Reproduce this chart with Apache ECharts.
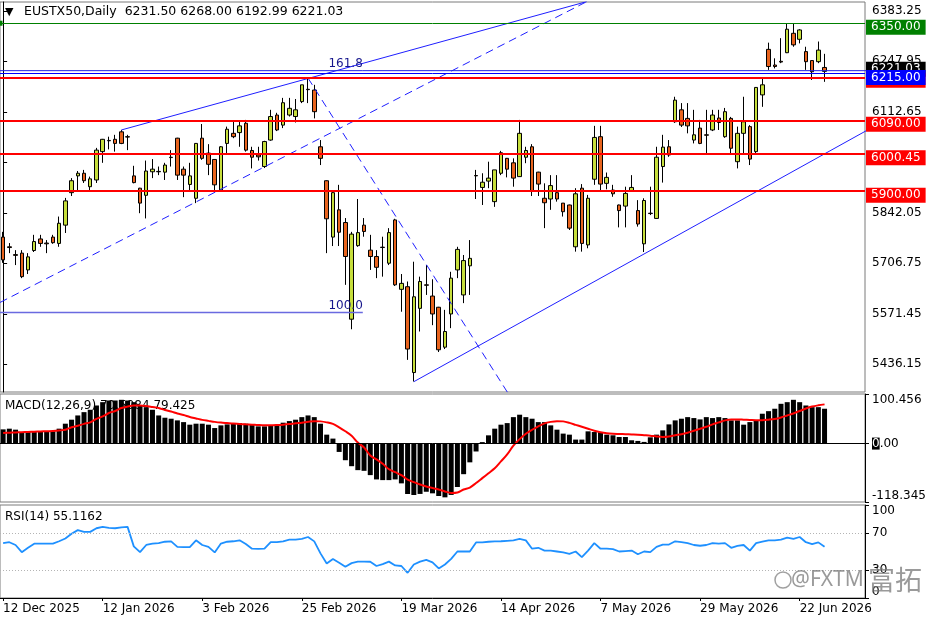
<!DOCTYPE html>
<html>
<head>
<meta charset="utf-8">
<script src="https://cdn.jsdelivr.net/npm/echarts@6/dist/echarts.min.js"></script>
<style>
  html, body { margin: 0; padding: 0; background: #fff; }
  #chart { width: 936px; height: 624px; }
</style>
</head>
<body>
<div id="chart"></div>
<script>
// ---------- data ----------
const openP = [5777,5751,5730,5734,5689,5741,5772,5761,5777,5760, 5809,5896,5941,5948,5912,5930,6006,6035,6039,6059,
  6046,5941,5908,5889,5952,5952,5951,5990,6042,5959, 5918,5881,6042,6002,5985,5903,6028,6055,6057,6082,
  6009,5997,5966,6037,6104,6077,6104,6100,6140,6173, 6171,6019,5928,5777,5850,5816,5557,5754,5809,5742,
  5725,5750,5707,5823,5637,5644,5414,5586,5649,5619, 5589,5482,5571,5689,5622,5700,5942,5910,5927,5872,
  5948,5988,5976,5939,5991,6019,5951,5881,5879,5896, 5868,5863,5751,5908,5756,5932,6046,5921,5903,5863,
  5860,5901,5848,5759,5841,5827,5966,6019,6086,6118, 6095,6037,6069,6051,6064,6096,6046,6095,5979,6055,
  6073,6006,6158,6280,6238,6248,6271,6323,6307,6274, 6250,6247,6231.50];
const closeP = [5716,5749,5728,5671,5724,5765,5760,5759,5762,5814, 5874,5928,5948,5928,5933,6010,6039,6036,6028,6028,
  6045,5923,5868,5954,5959,5953,5970,5991,5943,5943, 5941,6028,5988,5972,5917,6019,6066,6046,6075,6010,
  5991,5992,6033,6100,6064,6137,6122,6118,6185,6172, 6113,5988,5826,5896,5790,5725,5785,5789,5792,5725,
  5696,5749,5789,5649,5653,5477,5617,5658,5648,5571, 5475,5524,5667,5744,5714,5720,5941,5924,5935,5957,
  6003,5959,5935,6055,6009,5901,5919,5869,5915,5879, 5845,5801,5893,5760,5881,6044,5919,5937,5893,5848,
  5894,5910,5812,5875,5840,5991,6018,5997,6144,6077, 6075,6051,6028,6050,6104,6084,6113,6015,6055,6086,
  5986,6178,6185,6234,6234,6246,6334,6292,6332,6247, 6220,6278,6221.03];
const lowP = [5708,5734,5702,5667,5678,5737,5751,5734,5759,5751, 5788,5887,5903,5922,5903,5922,5976,6012,6006,6026,
  6010,5921,5841,5827,5935,5943,5930,5966,5930,5884, 5899,5868,5984,5943,5899,5899,5997,6042,6019,6006,
  5961,5982,5962,6035,6061,6069,6100,6084,6136,6136, 6095,5970,5734,5753,5753,5649,5530,5751,5778,5689,
  5667,5671,5702,5646,5577,5448,5390,5524,5622,5541, 5469,5477,5533,5667,5600,5622,5879,5863,5908,5858,
  5943,5937,5912,5938,5975,5887,5887,5801,5850,5872, 5832,5796,5738,5738,5747,5917,5903,5905,5885,5803,
  5803,5899,5805,5737,5836,5826,5923,5992,6083,6072, 6055,6028,6026,6002,6061,6064,6043,6002,5961,6002,
  5970,5997,6126,6225,6229,6243,6270,6287,6296,6225, 6198,6243,6192.99];
const highP = [5791,5761,5742,5742,5734,5783,5783,5769,5783,5832, 5882,5935,5954,5957,5939,6016,6040,6046,6051,6064,
  6051,5968,5909,5982,5986,5966,5976,6010,6043,5966, 5976,6029,6080,6026,5986,6021,6073,6086,6086,6091,
  6019,6019,6035,6118,6110,6150,6150,6147,6185,6203, 6185,6037,5929,5903,5917,5828,5791,5879,5828,5783,
  5742,5778,5801,5826,5678,5658,5711,5671,5702,5664, 5590,5582,5684,5751,5729,5769,5957,5948,5979,5957,
  6008,5989,5988,6091,6019,6026,5952,5921,5943,5943, 5868,5864,5908,5919,5890,6075,6075,5950,5917,5864,
  5912,5943,5876,5881,5912,6019,6051,6037,6153,6136, 6136,6118,6091,6118,6118,6118,6123,6099,6073,6153,
  6077,6179,6203,6298,6256,6310,6348,6348,6334,6287, 6250,6301,6268.00];

const macdMain = [28.8,30.2,28.2,23.4,23.4,23.4,24.8,24.8,24.8,30.2, 40.3,48.4,57,63.7,68.5,77.2,83.9,87.3,87.3,88.7,
  87.3,83.9,77.2,73.8,68.5,57,52.4,50.4,47,43.5, 38.3,40.3,40.3,38.3,31.5,36.9,38.9,40.3,41.5,40.3,
  38.3,34.9,34.9,36.9,36.9,42.3,45.6,48.4,53.6,57, 53.6,40.3,18.1,10.1,-16.9,-33.7,-45.8,-53.8,-55.2,-63.9,
  -72.6,-74,-74,-72.6,-80.6,-102.2,-104.2,-102,-97.6,-100.8, -106.2,-108.9,-104,-88,-62,-38,-16,3,16.7,30.2,
  38.3,41.5,53.6,58.5,53.6,50.4,43.5,43.5,36.9,28.2, 20.2,18.1,8.1,8.1,24.8,23.4,23.4,18.1,16.8,13.4,
  13.4,6.7,5.4,3.4,12.7,18.1,26.8,38.9,47,50.4, 53.6,51.7,49,53.6,51.7,53.6,51.7,47,47,38.3,
  43.5,47,60.5,65.7,70.6,80.6,83.9,88.7,83.9,77.2, 73.8,73.8,70.5984];
const macdSignal = [21.4,22,22.5,23,23.5,24,24.5,25,25.5,26.5, 28,33,36,40,43,50,55,62,66,72,
  75,77,77,76,74,72,68,65,61,58, 54,51,48,46,44,42.5,41.5,40.5,39.8,39,
  38.3,37.5,37,37,37.5,38.3,39.5,41,42.3,44, 45.5,45,43,40,33,25,16,2,-8,-24,
  -32,-41,-52,-58,-64,-73,-78,-83,-87,-90, -93,-97,-100,-99,-93,-89,-80,-70,-60,-50,
  -36,-22,-4,9,20,28,35,41,44,45.5, 45,42,38,34,30,26,23,21,20,19.5,
  19,18.5,18,17,16,14.5,13.5,14.5,17,19, 22,26,30,34,39,43,47,49,49,48.5,
  48,47.5,47.5,48.5,50,53,57,61,66,71, 75,77.5,79.425];
const rsi14 = [59,60,57,49.3,54,58.4,58.4,58.4,58.4,61, 64,69,73,71.1,71.1,75,76.5,75.5,75,76,
  76.5,55.5,49.3,57,58.4,59,60.5,60.9,55,54.7, 54.7,62,57,55,49,58.5,60.5,61,62,58,
  53,52.9,53,60,60,61,62.7,62.7,63.5,65.6, 60.9,48,37,42,38,33.6,37.5,39.1,39.1,39,
  34.4,36.5,39.1,35,34.4,27.1,36,39.1,41,38.4, 31.8,36,42,50,50,50,59.8,59.8,60.5,60.9,
  61,61.5,62,63.5,62,53,54,51,51,50, 49,47.5,50,44,51,59,53,53,52.5,50,
  50.5,51,47,50,49.3,55,57.3,57.5,61,60, 59,57,56.2,57,59,58.5,59,54,56,57,
  51,59,60.5,62,62,62.7,65,63.5,65.6,60, 58,59.8,55.1162];

const priceTicks = [5436.15, 5571.45, 5706.75, 5842.05, 5977.35, 6112.65, 6247.95, 6383.25];
const macdTicks = [100.456, 0, -118.345];
const rsiTicks = [100, 70, 30, 0];
const rsiLevels = [70, 30];

// horizontal levels drawn on the price pane
const resistanceLevel = 6350;
const blueLevel = 6215;
const redLevels = [6205, 6090, 6000.45, 5900];
// fibonacci expansion levels and where the tool ends (bar index)
const fibLevels = [5575, 6222.9];
const fibNames = ['100.0', '161.8'];
const fibEndBar = 57.8;
// trend lines: anchor points as [bar index, price]
const trendTop = [[19, 6064], [93.8, 6408]];
const trendBase = [[-0.5, 5601.8], [93.8, 6408]];
const trendDown = [[49, 6203], [82, 5336]];
const trendSupport = [[66, 5389.5], [140, 6074]];

// trading calendar (weekdays minus exchange holidays)
const holidays = ['2025-12-24', '2025-12-25', '2025-12-26', '2025-12-31', '2026-01-01', '2026-04-03', '2026-04-06', '2026-05-01'];
const MONTHS = ['Jan', 'Feb', 'Mar', 'Apr', 'May', 'Jun', 'Jul', 'Aug', 'Sep', 'Oct', 'Nov', 'Dec'];
const slots = 139;   // bars + empty space on the right
const dates = [];
for (let t = Date.UTC(2025, 11, 12); dates.length < slots; t += 86400000) {
  const d = new Date(t);
  const wd = d.getUTCDay();
  if (wd === 0 || wd === 6) continue;
  if (holidays.includes(d.toISOString().slice(0, 10))) continue;
  dates.push(d.getUTCDate() + ' ' + MONTHS[d.getUTCMonth()] + ' ' + d.getUTCFullYear());
}

// ---------- chart ----------
const FONT = 'DejaVu Sans';
const last = closeP.length - 1;
const candles = openP.map((o, i) => [o, closeP[i], lowP[i], highP[i]]);

const chart = echarts.init(document.getElementById('chart'));

function boxLabel(bg, dy) {
  return {
    show: true, position: 'end', distance: 1,
    formatter: p => Number(p.value).toFixed(2),
    color: '#fff', backgroundColor: bg, padding: [2, 5, 1, 5],
    fontSize: 12, fontFamily: FONT, offset: [0, dy]
  };
}

const levelData = [
  { yAxis: resistanceLevel, symbol: ['emptyRect', 'emptyRect'], symbolSize: 5,
    lineStyle: { color: '#008000', width: 1, type: 'solid' }, label: boxLabel('#008000', 4) }
];
redLevels.slice(1).forEach(v => levelData.push(
  { yAxis: v, lineStyle: { color: '#ff0000', width: 2, type: 'solid' }, label: boxLabel('#ff0000', 4) }));
levelData.push({ yAxis: closeP[last], lineStyle: { color: 'rgba(0,0,0,0)', width: 0 }, label: boxLabel('#000', -2) });
levelData.push({ yAxis: redLevels[0], lineStyle: { color: '#ff0000', width: 2, type: 'solid' }, label: boxLabel('#ff0000', 3) });
levelData.push({ yAxis: blueLevel, lineStyle: { color: '#0000ff', width: 1, type: 'solid' }, label: boxLabel('#0000ff', 4) });

function trendSeries(points, dashed) {
  return {
    type: 'line', xAxisIndex: 1, yAxisIndex: 0, data: points, symbol: 'none', silent: true, z: 3,
    lineStyle: { color: '#1f1fff', width: 1, type: dashed ? [8, 5] : 'solid' }
  };
}
function fibSeries(level, name, color, width) {
  return {
    type: 'line', xAxisIndex: 1, yAxisIndex: 0, symbol: 'none', silent: true, z: 3,
    data: [[-1, level], [fibEndBar, level]],
    lineStyle: { color: color, width: width },
    endLabel: { show: true, formatter: name, align: 'right', verticalAlign: 'bottom', distance: 0,
      offset: [0, -1], color: '#16168c', fontSize: 12, fontFamily: FONT }
  };
}

const hiddenCat = (grid) => ({
  gridIndex: grid, type: 'category', data: dates, boundaryGap: true,
  axisLine: { show: false }, axisTick: { show: false }, axisLabel: { show: false }, splitLine: { show: false }
});
const gridBase = { left: 0, right: 71, show: true, borderColor: '#7a7a7a', borderWidth: 1, backgroundColor: '#fff' };

chart.setOption({
  animation: false,
  backgroundColor: '#fff',
  textStyle: { fontFamily: FONT },
  grid: [
    Object.assign({ top: 2, height: 390 }, gridBase),
    Object.assign({ top: 394, height: 108 }, gridBase),
    Object.assign({ top: 505, height: 93 }, gridBase)
  ],
  xAxis: [
    hiddenCat(0),
    { gridIndex: 0, type: 'value', min: -0.5, max: slots - 0.5, show: false },
    hiddenCat(1),
    {
      gridIndex: 2, type: 'category', data: dates, boundaryGap: true,
      axisLine: { show: true, lineStyle: { color: '#000' } },
      axisTick: { show: true, alignWithLabel: true, interval: 15, length: 3, lineStyle: { color: '#000' } },
      axisLabel: { interval: 15, align: 'left', color: '#000', fontSize: 12, fontFamily: FONT, margin: 5 },
      splitLine: { show: false }
    }
  ],
  yAxis: [
    {
      gridIndex: 0, type: 'value', position: 'right', min: 5361.9, max: 6406.9,
      axisLine: { show: true, lineStyle: { color: '#000' } },
      axisTick: { show: true, length: 4, customValues: priceTicks, lineStyle: { color: '#000' } },
      axisLabel: { customValues: priceTicks, formatter: v => v.toFixed(2), color: '#000', fontSize: 12, fontFamily: FONT, margin: 7 },
      splitLine: { show: false }
    },
    {
      gridIndex: 1, type: 'value', position: 'right', min: -118.345, max: 100.456,
      axisLine: { show: true, lineStyle: { color: '#000' } },
      axisTick: { show: true, length: 4, customValues: macdTicks, lineStyle: { color: '#000' } },
      axisLabel: {
        customValues: macdTicks, color: '#000', fontSize: 12, fontFamily: FONT, margin: 7,
        verticalAlignMaxLabel: 'bottom', verticalAlignMinLabel: 'top',
        formatter: v => v === 0 ? '{z|0}.00' : String(v),
        rich: { z: { backgroundColor: '#000', color: '#fff', fontSize: 12, fontFamily: FONT } }
      },
      splitLine: { show: false }
    },
    {
      gridIndex: 2, type: 'value', position: 'right', min: 0, max: 100,
      axisLine: { show: true, lineStyle: { color: '#000' } },
      axisTick: { show: true, length: 4, customValues: rsiTicks, lineStyle: { color: '#000' } },
      axisLabel: {
        customValues: rsiTicks, color: '#000', fontSize: 12, fontFamily: FONT, margin: 7,
        verticalAlignMaxLabel: 'bottom', verticalAlignMinLabel: 'top'
      },
      splitLine: { show: false }
    }
  ],
  series: [
    {
      name: 'EUSTX50', type: 'candlestick', xAxisIndex: 0, yAxisIndex: 0, data: candles, barWidth: 4,
      itemStyle: { color: '#c6de3c', color0: '#e8641e', borderColor: '#000', borderColor0: '#000', borderWidth: 1 },
      markLine: { silent: true, symbol: ['none', 'none'], animation: false, data: levelData }
    },
    trendSeries(trendTop, false),
    trendSeries(trendBase, true),
    trendSeries(trendDown, true),
    trendSeries(trendSupport, false),
    fibSeries(fibLevels[0], fibNames[0], '#6a6ae0', 1.5),
    fibSeries(fibLevels[1], fibNames[1], '#2020e0', 1),
    {
      type: 'line', xAxisIndex: 1, yAxisIndex: 0, symbol: 'none', silent: true, z: 3,
      data: [[fibEndBar, fibLevels[1]], [slots + 1, fibLevels[1]]],
      lineStyle: { color: '#2020e0', width: 1 }
    },
    {
      name: 'MACD', type: 'bar', xAxisIndex: 2, yAxisIndex: 1, data: macdMain, barWidth: 5,
      itemStyle: { color: '#000' },
      markLine: { silent: true, symbol: ['none', 'none'], label: { show: false }, animation: false,
        lineStyle: { color: '#000', width: 1, type: 'solid' }, data: [{ yAxis: 0 }] }
    },
    {
      name: 'Signal', type: 'line', xAxisIndex: 2, yAxisIndex: 1, data: macdSignal, symbol: 'none', smooth: 0.3,
      lineStyle: { color: '#ff0000', width: 2 }
    },
    {
      name: 'RSI', type: 'line', xAxisIndex: 3, yAxisIndex: 2, data: rsi14, symbol: 'none',
      lineStyle: { color: '#1e90ff', width: 1.8 },
      markLine: { silent: true, symbol: ['none', 'none'], label: { show: false }, animation: false,
        lineStyle: { color: '#b4b4b4', width: 1, type: [1, 2] }, data: rsiLevels.map(v => ({ yAxis: v })) }
    }
  ],
  graphic: [
    { type: 'text', x: 5, y: 12, style: { text: '▼', fontSize: 11, fontFamily: FONT, fill: '#000', verticalAlign: 'middle' } },
    { type: 'text', x: 24, y: 12, style: {
        text: 'EUSTX50,Daily  ' + [openP[last], highP[last], lowP[last], closeP[last]].map(v => v.toFixed(2)).join(' '),
        fontSize: 12.5, fontFamily: FONT, fill: '#000', verticalAlign: 'middle' } },
    { type: 'text', x: 5, y: 406, z: 0, style: {
        text: 'MACD(12,26,9) ' + macdMain[last].toFixed(4) + ' ' + macdSignal[last].toFixed(3),
        fontSize: 12, fontFamily: FONT, fill: '#000', verticalAlign: 'middle' } },
    { type: 'text', x: 5, y: 517, z: 0, style: {
        text: 'RSI(14) ' + rsi14[last].toFixed(4),
        fontSize: 12, fontFamily: FONT, fill: '#000', verticalAlign: 'middle' } },
    { type: 'circle', z: 100, shape: { cx: 783, cy: 580, r: 8 }, style: { fill: 'none', stroke: 'rgba(120,120,120,0.7)', lineWidth: 1.5 } },
    { type: 'text', x: 791, y: 580, z: 100, style: { text: '@FXTM', fontSize: 21, fontFamily: 'Noto Sans', fill: 'rgba(120,120,120,0.75)', verticalAlign: 'middle' } },
    { type: 'text', x: 868, y: 580, z: 100, style: { text: '富拓', fontSize: 27, fontFamily: 'Noto Sans CJK SC', fill: 'rgba(120,120,120,0.75)', verticalAlign: 'middle' } }
  ]
});
</script>
</body>
</html>
